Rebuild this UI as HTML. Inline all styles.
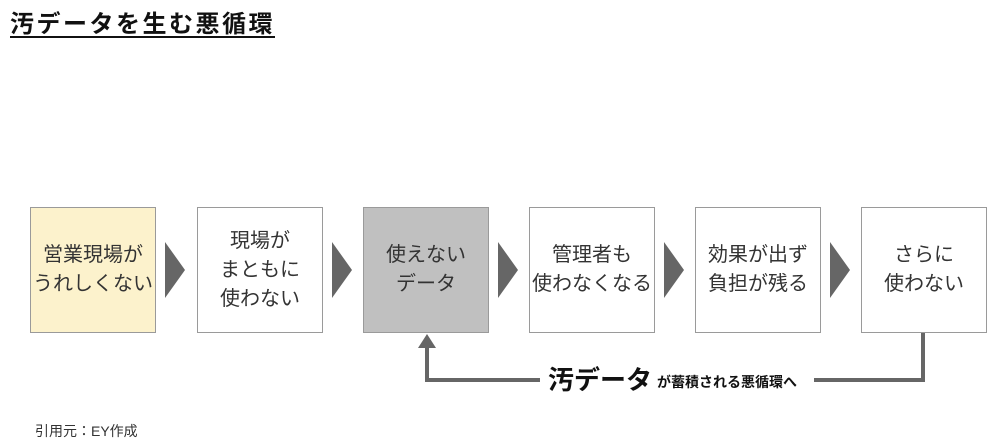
<!DOCTYPE html>
<html><head><meta charset="utf-8"><style>
body{margin:0;width:1000px;height:445px;background:#fff;position:relative;overflow:hidden;font-family:"Liberation Sans","Noto Sans CJK JP",sans-serif;color:#222}
.t{position:absolute;left:10px;top:4px;font-size:24px;font-weight:bold;text-decoration:underline;text-underline-offset:4px;letter-spacing:2.5px;color:#111}
.b{position:absolute;top:207px;width:124px;height:124px;border:1px solid #9a9a9a;background:#fff;display:flex;align-items:center;justify-content:center;text-align:center;font-size:20px;line-height:29px;color:#333}
.a{position:absolute;top:242px;width:0;height:0;border-top:28px solid transparent;border-bottom:28px solid transparent;border-left:20px solid #666}
.f{position:absolute;left:35px;top:421px;font-size:14px;color:#333}
</style></head><body>
<div class="t">汚データを生む悪循環</div>
<div class="b" style="left:30px;background:#fcf2cc">営業現場が<br>うれしくない</div>
<div class="a" style="left:165px"></div>
<div class="b" style="left:197px">現場が<br>まともに<br>使わない</div>
<div class="a" style="left:332px"></div>
<div class="b" style="left:363px;background:#c0c0c0">使えない<br>データ</div>
<div class="a" style="left:498px"></div>
<div class="b" style="left:529px">管理者も<br>使わなくなる</div>
<div class="a" style="left:664px"></div>
<div class="b" style="left:695px">効果が出ず<br>負担が残る</div>
<div class="a" style="left:830px"></div>
<div class="b" style="left:861px">さらに<br>使わない</div>
<svg style="position:absolute;left:0;top:0" width="1000" height="445">
<polyline points="923,333 923,380 814,380" fill="none" stroke="#666" stroke-width="4"/>
<polyline points="540,380 427,380 427,345" fill="none" stroke="#666" stroke-width="4"/>
<polygon points="418,348 436,348 427,334" fill="#666"/>
<text x="548" y="389" font-size="26" font-weight="bold" fill="#111" font-family="Liberation Sans, Noto Sans CJK JP, sans-serif">汚データ</text>
<text x="657" y="387" font-size="14" font-weight="bold" fill="#111" font-family="Liberation Sans, Noto Sans CJK JP, sans-serif">が蓄積される悪循環へ</text>
</svg>
<div class="f">引用元：EY作成</div>
</body></html>
